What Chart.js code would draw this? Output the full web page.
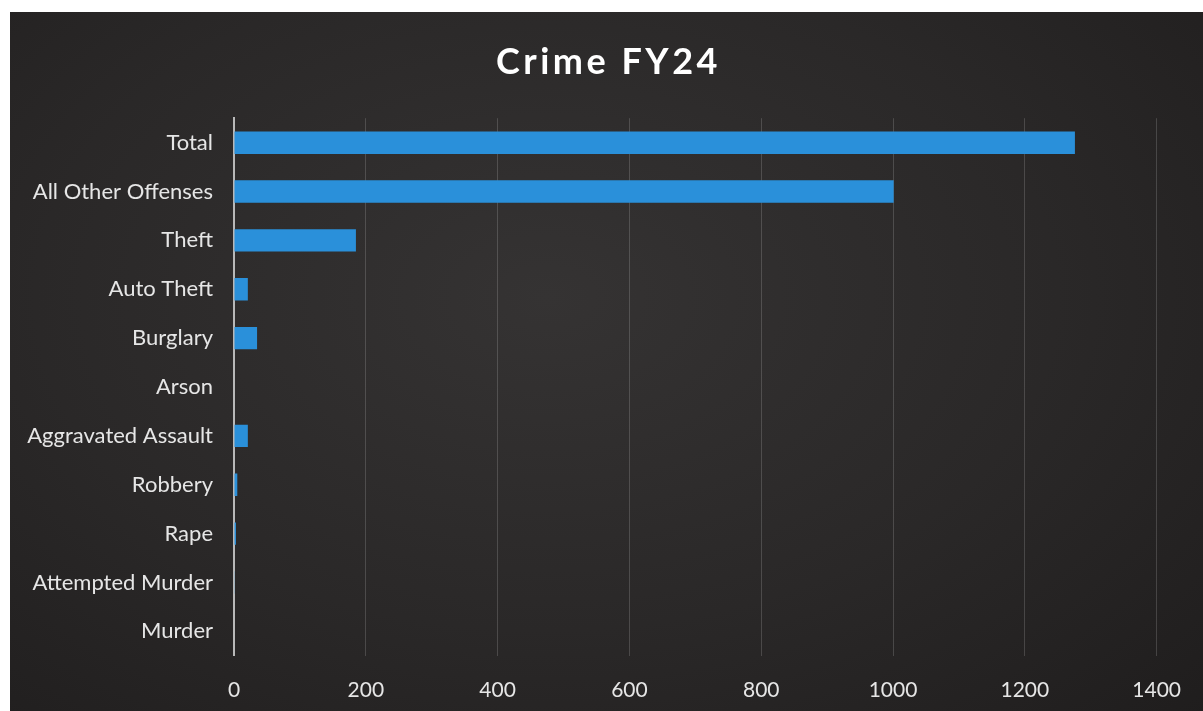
<!DOCTYPE html>
<html>
<head>
<meta charset="utf-8">
<title>Crime FY24</title>
<script src="https://cdn.jsdelivr.net/npm/chart.js@4"></script>
<style>
  html, body { margin: 0; padding: 0; background: #ffffff; overflow: hidden; }
  #frame {
    position: absolute; left: 10px; top: 12px; width: 1193px; height: 713px;
    background: radial-gradient(ellipse at 45% 40%, #353333 0%, #2a2828 55%, #1f1d1d 100%);
  }
</style>
</head>
<body>
<div id="frame"><canvas id="crimeChart"></canvas></div>
<script>
/* Crime FY24 — barres horizontales */
var categories = ['Total', 'All Other Offenses', 'Theft', 'Auto Theft', 'Burglary', 'Arson',
                  'Aggravated Assault', 'Robbery', 'Rape', 'Attempted Murder', 'Murder'];
var counts = [1276, 1001, 185, 21, 35, 0, 21, 5, 3, 1, 0];
var xTicks = [0, 200, 400, 600, 800, 1000, 1200, 1400];

(function () {
    'use strict';
    var el = document.getElementById('crimeChart');
    var font = 'Lato, "Open Sans", sans-serif';
    var rightPad = 46;

    /* titre espacé et centré sur tout le cadre (pas seulement la zone sans marge droite) */
    var spacedTitle = {
        id: 'spacedTitle',
        afterInit: function (chart) {
            var block = chart.titleBlock;
            if (!block) return;
            var orig = block.draw;
            block.draw = function () {
                var ctx = chart.ctx;
                ctx.save();
                ctx.translate(rightPad / 2 + 2, 0);
                ctx.letterSpacing = '3.5px';
                orig.apply(this, arguments);
                ctx.restore();
            };
        }
    };

    new Chart(el.getContext('2d'), {
        type: 'bar',
        data: {
            labels: categories,
            datasets: [{
                label: 'Crime FY24',
                data: counts,
                backgroundColor: '#2a90da',
                barPercentage: 0.46,
                categoryPercentage: 1.0
            }]
        },
        options: {
            indexAxis: 'y',
            responsive: true,
            maintainAspectRatio: false,
            animation: false,
            layout: { padding: { top: 0, right: rightPad, bottom: 0, left: 0 } },
            plugins: {
                legend: { display: false },
                tooltip: { enabled: false },
                title: {
                    display: true,
                    text: 'Crime FY24',
                    color: '#ffffff',
                    font: { family: font, size: 36, weight: 'bold' },
                    padding: { top: 29, bottom: 34 }
                }
            },
            scales: {
                x: {
                    min: xTicks[0],
                    max: xTicks[xTicks.length - 1],
                    afterBuildTicks: function (axis) {
                        axis.ticks = xTicks.map(function (v) { return { value: v }; });
                    },
                    grid: { color: 'rgba(255,255,255,0.16)', drawTicks: false },
                    border: { display: false },
                    ticks: {
                        color: '#e6e6e6', padding: 22, font: { family: font, size: 21 },
                        callback: function (v) { return String(v); }
                    }
                },
                y: {
                    afterFit: function (axis) { axis.width = 224; },
                    grid: { display: false, drawTicks: false },
                    border: { color: '#b8b8b8', width: 2 },
                    ticks: { color: '#e6e6e6', padding: 21, font: { family: font, size: 22 } }
                }
            }
        },
        plugins: [spacedTitle]
    });
}());
</script>
</body>
</html>
